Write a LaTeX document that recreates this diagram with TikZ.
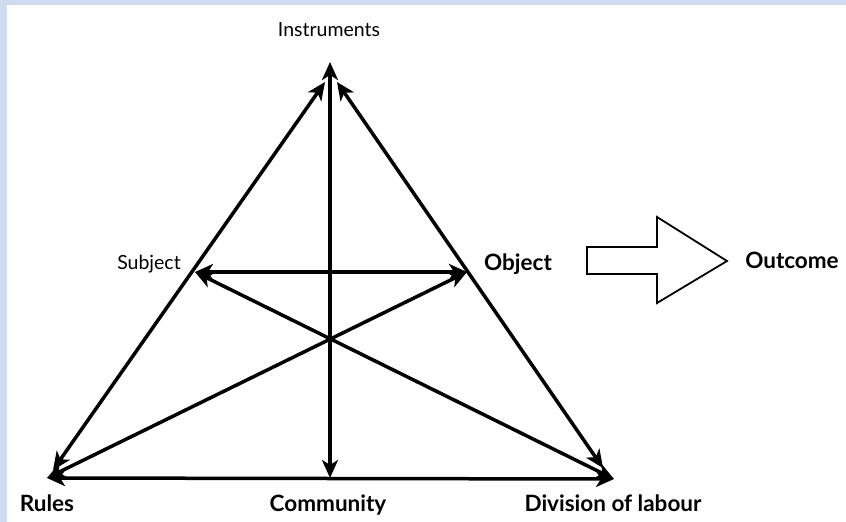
\documentclass[tikz,border=0pt]{standalone}
\usepackage{fontspec}
\setmainfont{Lato}
\usetikzlibrary{arrows.meta}
\definecolor{frameblue}{RGB}{206,219,240}

\tikzset{
  tip/.tip={Stealth[length=18pt,width=16pt,inset=5pt]},
  link/.style={tip-tip, line width=3.5pt},
  thinlabel/.style={font=\fontsize{19.5}{22}\selectfont},
  boldlabel/.style={font=\fontsize{22.5}{26}\selectfont\bfseries}
}

\begin{document}
\begin{tikzpicture}[x=1pt,y=-1pt]
\useasboundingbox (0,0) rectangle (846,522);
\fill [frameblue] (0,0) rectangle (846,522);
\fill [white] (7,5) rectangle (846,522);

\coordinate (top) at (330,62);
\coordinate (topleft) at (325,82);
\coordinate (topright) at (337,82);
\coordinate (rules) at (47,478);
\coordinate (rulesside) at (53,470);
\coordinate (labour) at (614,479);
\coordinate (labourside) at (603,468);
\coordinate (community) at (330,478);
\coordinate (subject) at (195,272);
\coordinate (object) at (467,272);

\draw [link] (topleft) -- (rulesside);
\draw [link] (topright) -- (labourside);
\draw [link] (top) -- (community);
\draw [link] (rules) -- (labour);
\draw [link] (subject) -- (object);
\draw [link] (rules) -- (object);
\draw [link] (labour) -- (subject);

\draw [line width=1.8pt, line join=miter] (587,247) -- (657,247) -- (657,217) -- (727,261)
  -- (657,303) -- (657,274) -- (587,274) -- cycle;

\node [thinlabel] (instrumentstext) at (329,30) {Instruments};
\node [thinlabel] (subjecttext) at (149,264) {Subject};
\node [boldlabel] (objecttext) at (518,264) {Object};
\node [boldlabel] (outcometext) at (792,260) {Outcome};
\node [boldlabel] (rulestext) at (47,503) {Rules};
\node [boldlabel] (communitytext) at (328,505) {Community};
\node [boldlabel] (labourtext) at (613,503) {Division of labour};
\end{tikzpicture}
\end{document}
